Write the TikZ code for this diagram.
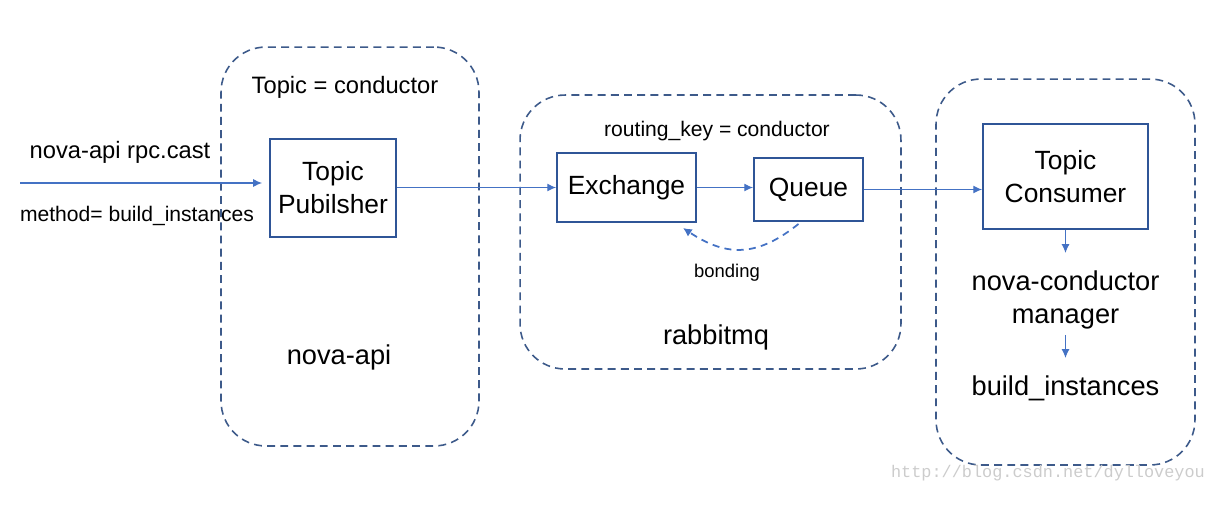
\documentclass[tikz,border=0pt]{standalone}
\usepackage{fontspec}
\setmainfont{Liberation Sans}
\setmonofont{Liberation Mono}
\usetikzlibrary{arrows.meta,positioning,calc}
\definecolor{boxblue}{HTML}{2F5597}
\definecolor{dashblue}{HTML}{3D5A8A}
\definecolor{arrowblue}{HTML}{4472C4}
\def \medY {0.3cm}
\tikzset{
 	block/.style= {draw=boxblue, line width=1.1pt, rectangle, align=center, font=\fontsize{15}{18.7}\selectfont},
 	groupblock/.style= {draw=dashblue, line width=0.9pt, dash pattern=on 4.5pt off 3pt, rectangle, rounded corners=0.9cm},
 	bigtext/.style= {inner sep=0pt, align=center, font=\fontsize{15.5}{19.3}\selectfont},
 	midtext/.style= {inner sep=0pt, align=center, font=\fontsize{13.5}{16}\selectfont},
 	smalltext/.style= {inner sep=0pt, align=center, font=\fontsize{12}{14}\selectfont},
 	tinytext/.style= {inner sep=0pt, align=center, font=\fontsize{10.5}{12}\selectfont},
 	flow/.style= {draw=arrowblue, line width=0.6pt, -{Latex[length=5pt,width=4.5pt]}},
 	bond/.style= {draw=arrowblue, line width=1pt, dash pattern=on 4pt off 3pt, -{Latex[length=5pt,width=5pt]}}
 }

\begin{document}
\begin{tikzpicture}[x=0.02cm, y=-0.02cm]
\useasboundingbox (0,0) rectangle (1218,518);

%%%%%%%%%%%%%%%%%%%%% Groups %%%%%%%%%%%%%%%%%%%%%
	\node [groupblock, minimum width=5.16cm, minimum height=7.98cm] (apigrp) at (350,246.5) {};
	\node [groupblock, minimum width=7.62cm, minimum height=5.48cm] (mqgrp) at (710.5,232) {};
	\node [groupblock, minimum width=5.18cm, minimum height=7.72cm] (congrp) at (1065.5,272) {};

%%%%%%%%%%%%%%%%%%%%% Nodes %%%%%%%%%%%%%%%%%%%%%
	\node [block, minimum width=2.52cm, minimum height=1.96cm] (pub) at (333,188) {Topic\\Pubilsher};
	\node [block, minimum width=2.78cm, minimum height=1.38cm] (exch) at (626.5,187.5) {Exchange};
	\node [block, minimum width=2.18cm, minimum height=1.26cm] (queue) at (808.5,189.5) {Queue};
	\node [block, minimum width=3.3cm, minimum height=2.1cm] (cons) at (1065.5,176.5) {Topic\\Consumer};

	\node [midtext] (topic) at (345,87) {Topic = conductor};
	\node [bigtext] (apiname) at (339,357) {nova-api};
	\node [midtext] (rpc) at (120,152) {nova-api rpc.cast};
	\node [smalltext] (method) at (137,216) {method= build\_instances};
	\coordinate (src) at (20,183);

	\node [smalltext] (rkey) at (717,131) {routing\_key = conductor};
	\node [tinytext] (bonding) at (727,273) {bonding};
	\node [bigtext] (mqname) at (716,337) {rabbitmq};

	\node [bigtext, below = 0.8cm of cons] (mgr) {nova-conductor\\manager};
	\node [bigtext, below = 0.9cm of mgr] (build) {build\_instances};

	\node [inner sep=0pt, text=gray!40, font=\ttfamily\fontsize{9.6}{11}\selectfont] (mark) at (1048,473) {http://blog.csdn.net/dylloveyou};

%%%%%%%%%%%%%%%%%%%%% Connectors %%%%%%%%%%%%%%%%%%%%%
	\draw [flow, shorten >=4pt] (src) -- (src -| pub.west);
	\draw [flow] (pub.east |- exch.west) -- (exch.west);
	\draw [flow] (exch.east) -- (exch.east -| queue.west);
	\draw [flow] (queue.east) -- (queue.east -| cons.west);
	\draw [bond] ($(queue.south)+(-10,2)$) .. controls +(-40,32) and +(45,30) .. ($(exch.south east)+(-14,5)$);
	\draw [flow] (cons.south) -- ++(0,23);
	\draw [flow] ($(mgr.south)+(0,5)$) -- ++(0,23);

\end{tikzpicture}
\end{document}
